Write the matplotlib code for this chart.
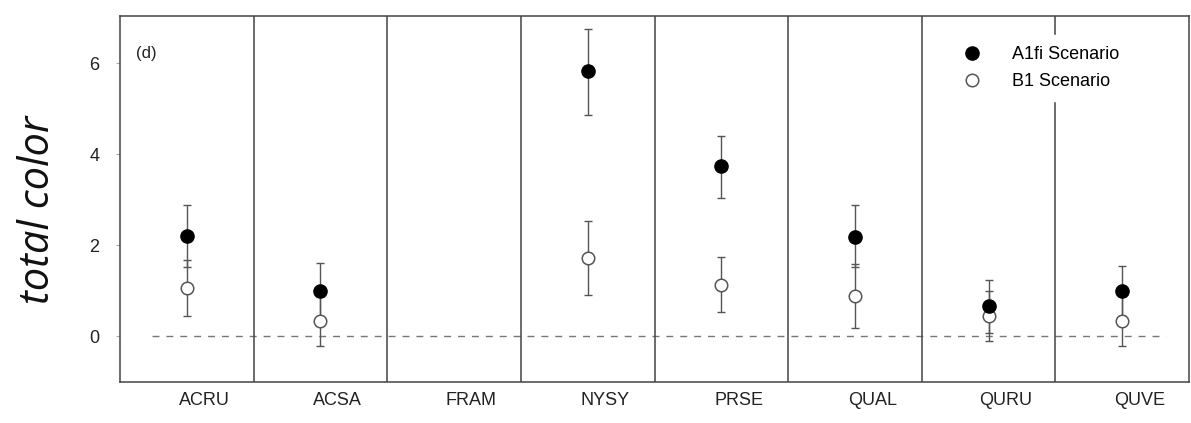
#! /usr/bin/env python
# coding:utf-8
import numpy as np
import matplotlib.pyplot as plt

species = ['ACRU', 'ACSA', 'FRAM', 'NYSY', 'PRSE', 'QUAL', 'QURU', 'QUVE']

# A1fi scenario: mean, lower, upper
a1_mean = [2.20, 1.00, np.nan, 5.83, 3.73, 2.18, 0.66, 0.99]
a1_low = [1.53, 0.39, np.nan, 4.86, 3.03, 1.52, 0.08, 0.44]
a1_high = [2.88, 1.61, np.nan, 6.74, 4.40, 2.89, 1.24, 1.54]

# B1 scenario
b1_mean = [1.06, 0.33, np.nan, 1.72, 1.13, 0.88, 0.44, 0.33]
b1_low = [0.44, -0.22, np.nan, 0.91, 0.53, 0.18, -0.11, -0.22]
b1_high = [1.68, 0.88, np.nan, 2.54, 1.75, 1.58, 0.99, 0.88]

yticks = [0, 2, 4, 6]

plt.rcParams['font.family'] = ['Liberation Sans', 'DejaVu Sans']
fig = plt.figure(figsize=(11.91, 4.23), dpi=100)
ax = fig.add_axes([0.1008, 0.097, 0.8975, 0.865])

n = len(species)
xpos = np.arange(n) + 0.5
a1_mean = np.array(a1_mean)
b1_mean = np.array(b1_mean)
a1_err = [a1_mean - np.array(a1_low), np.array(a1_high) - a1_mean]
b1_err = [b1_mean - np.array(b1_low), np.array(b1_high) - b1_mean]

# zero line
ax.hlines(0, 0.24, n - 0.17, colors='#777777', linestyles=(0, (5, 5)), lw=1.0, zorder=1)

# panel separators
for i in range(1, n):
    ax.axvline(i, color='#444444', lw=1.1, zorder=1)

ax.errorbar(xpos, b1_mean, yerr=b1_err, fmt='none', ecolor='#555555',
            elinewidth=1.0, capsize=3, capthick=1.0, zorder=2)
ax.errorbar(xpos, a1_mean, yerr=a1_err, fmt='none', ecolor='#555555',
            elinewidth=1.0, capsize=3, capthick=1.0, zorder=2)
ax.plot(xpos, a1_mean, 'o', ms=9.5, mfc='black', mec='black', zorder=4,
        label='A1fi Scenario')
ax.plot(xpos, b1_mean, 'o', ms=9, mfc='white', mec='#555555', mew=1.1,
        zorder=3, label='B1 Scenario')

ax.set_xlim(0, n)
ax.set_ylim(-1, 7.03)
ax.set_xticks(xpos + 0.13)
ax.set_xticklabels(species, fontsize=13, color='#222222')
ax.tick_params(axis='x', length=0, pad=7)
ax.set_yticks(yticks)
ax.set_yticklabels([str(v) for v in yticks], fontsize=13, color='#222222')
ax.tick_params(axis='y', length=3, pad=12, color='#aaaaaa')

for s in ax.spines.values():
    s.set_color('#444444')
    s.set_linewidth(1.1)

ax.text(0.12, 6.2, '(d)', fontsize=12, color='#222222', va='center')

ax.set_ylabel('total color', fontsize=30, family='Open Sans', style='italic',
              color='#111111')
ax.yaxis.set_label_coords(-0.057, 0.47)

leg = ax.legend(loc='upper right', bbox_to_anchor=(0.953, 0.972), fontsize=13,
                frameon=True, framealpha=1, edgecolor='white', handletextpad=1.2,
                labelspacing=0.55, borderpad=0.6)
leg.set_zorder(5)

plt.savefig('out.png', dpi=100)
